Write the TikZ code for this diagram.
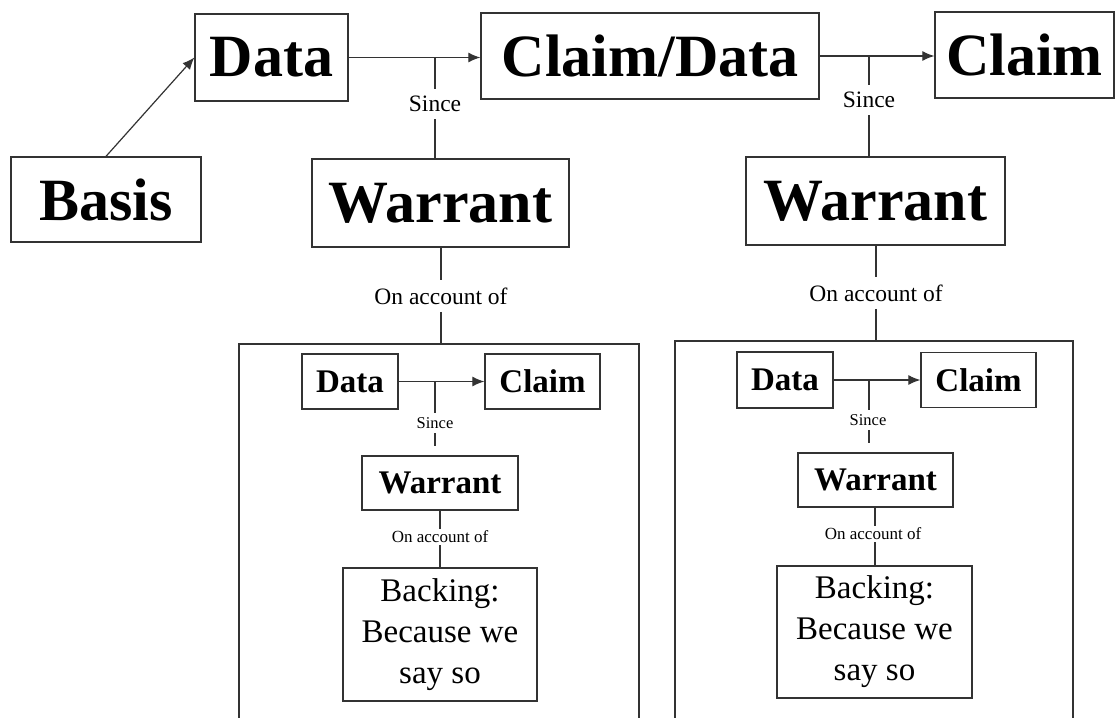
\documentclass[tikz,border=0pt]{standalone}
\usepackage{fontspec}
\setmainfont{Liberation Serif}
\usetikzlibrary{arrows.meta}
\begin{document}
\begin{tikzpicture}[x=1pt,y=-1pt,
  line width=1.2pt,
  ink/.style={draw=black!80},
  big/.style={ink, line width=1.3pt, inner sep=0pt, font=\fontsize{60}{60}\selectfont\bfseries},
  small/.style={ink, line width=1.3pt, inner sep=0pt, font=\fontsize{33}{33}\selectfont\bfseries},
  backbox/.style={ink, line width=1.3pt, inner sep=0pt, align=center, font=\fontsize{33}{41}\selectfont},
  lab/.style={inner xsep=1pt, inner ysep=7pt, font=\fontsize{23.5}{23.5}\selectfont},
  slab/.style={inner xsep=1pt, inner ysep=4pt, font=\fontsize{16.5}{16.5}\selectfont},
  olab/.style={inner xsep=1pt, inner ysep=1.5pt, font=\fontsize{17}{17}\selectfont},
  link/.style={ink},
  arr/.style={ink, -{Latex[length=12pt,width=10pt]}},
]
\useasboundingbox (0,0) rectangle (1115,717);

% ---- top level chain ----
\node[big, minimum width=190pt, minimum height=85pt] (basis) at (106,199.5) {Basis};
\node[big, minimum width=153pt, minimum height=87pt] (data) at (271.5,57.5) {Data};
\node[big, minimum width=338pt, minimum height=86pt] (cd) at (650,56) {Claim/Data};
\node[big, minimum width=179pt, minimum height=86pt] (claim) at (1024.5,55) {Claim};
\node[big, minimum width=257pt, minimum height=88pt] (warrL) at (440.5,203) {Warrant};
\node[big, minimum width=259pt, minimum height=88pt] (warrR) at (875.5,201) {Warrant};

\draw[arr] (basis.north) -- (data.west);
\draw[arr] (data.east) -- (data.east -| cd.west);
\draw[arr] (cd.east) -- (cd.east -| claim.west);

% since links from the top arrows
\coordinate (j1) at (435,57.5);
\node[lab] (s1) at (435,104) {Since};
\draw[link] (j1) -- (s1.north);
\draw[link] (s1.south) -- (s1 |- warrL.north);

\coordinate (j2) at (869,56);
\node[lab] (s2) at (869,100) {Since};
\draw[link] (j2) -- (s2.north);
\draw[link] (s2.south) -- (s2 |- warrR.north);

% ---- panels holding the nested arguments ----
\draw[ink, line width=1.3pt] (239,722) -- (239,344) -- (639,344) -- (639,722);
\coordinate (pL) at (441,344);
\draw[ink, line width=1.3pt] (675,722) -- (675,341) -- (1073,341) -- (1073,722);
\coordinate (pR) at (876,341);

\node[lab] (o1) at (441,296) {On account of};
\draw[link] (o1 |- warrL.south) -- (o1.north);
\draw[link] (o1.south) -- (pL);

\node[lab] (o2) at (876,293) {On account of};
\draw[link] (o2 |- warrR.south) -- (o2.north);
\draw[link] (o2.south) -- (pR);

% ---- left nested argument ----
\node[small, minimum width=96pt, minimum height=55pt] (dL) at (350,381.5) {Data};
\node[small, minimum width=115pt, minimum height=55pt] (cL) at (542.5,381.5) {Claim};
\node[small, minimum width=156pt, minimum height=54pt] (wL) at (440,483) {Warrant};
\node[backbox, minimum width=194pt, minimum height=133pt] (bL) at (440,634.5) {Backing:\\Because we\\say so};
\draw[arr] (dL.east) -- (cL.west);
\coordinate (j3) at (435,381.5);
\node[slab] (s3) at (435,423) {Since};
\coordinate (e3) at (435,446);
\draw[link] (j3) -- (s3.north);
\draw[link] (s3.south) -- (e3);
\node[olab] (o3) at (440,537) {On account of};
\draw[link] (o3 |- wL.south) -- (o3.north);
\draw[link] (o3.south) -- (o3 |- bL.north);

% ---- right nested argument ----
\node[small, minimum width=96pt, minimum height=56pt] (dR) at (785,380) {Data};
\node[small, minimum width=115pt, minimum height=55pt] (cR) at (978.5,380) {Claim};
\node[small, minimum width=155pt, minimum height=54pt] (wR) at (875.5,480) {Warrant};
\node[backbox, minimum width=195pt, minimum height=132pt] (bR) at (874.5,632) {Backing:\\Because we\\say so};
\draw[arr] (dR.east) -- (cR.west);
\coordinate (j4) at (869,380);
\node[slab] (s4) at (868,420) {Since};
\coordinate (e4) at (869,443);
\draw[link] (j4) -- (j4 |- s4.north);
\draw[link] (j4 |- s4.south) -- (e4);
\node[olab] (o4) at (873,534) {On account of};
\draw[link] (wR.south -| 875,0) -- (875,0 |- o4.north);
\draw[link] (875,0 |- o4.south) -- (875,0 |- bR.north);
\end{tikzpicture}
\end{document}
